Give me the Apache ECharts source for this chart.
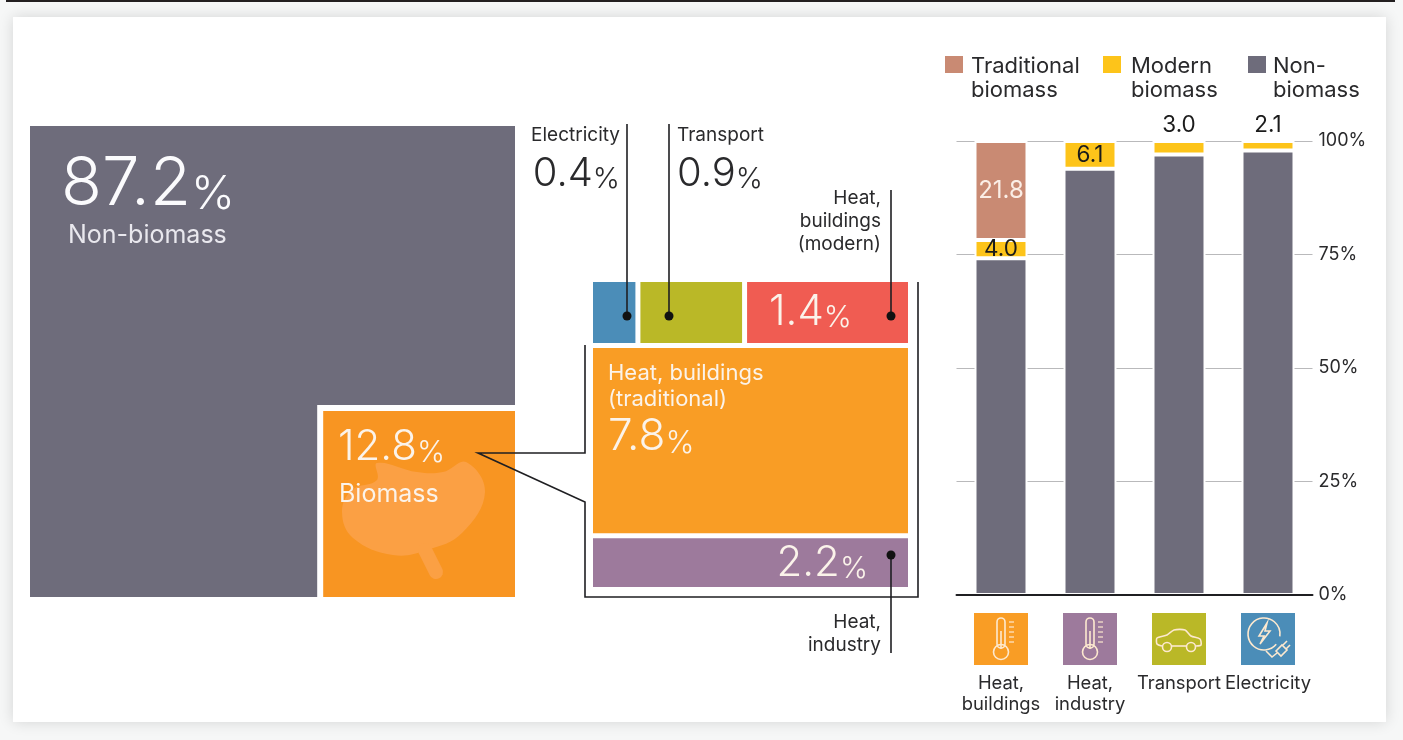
<!DOCTYPE html>
<html>
<head>
<meta charset="utf-8">
<title>Biomass share of energy use</title>
<script src="https://cdn.jsdelivr.net/npm/echarts@6/dist/echarts.min.js"></script>
<style>
  html, body { margin: 0; padding: 0; width: 1403px; height: 740px; overflow: hidden; background: #f6f7f7; }
  #rule { position: absolute; left: 6px; top: 0; width: 1389px; height: 2px; background: #231f20; }
  #card { position: absolute; left: 13px; top: 17px; width: 1373px; height: 705px; background: #fff;
          box-shadow: 0 0 14px rgba(0, 0, 0, 0.14); }
  #chart { position: absolute; left: 0; top: 0; width: 1403px; height: 740px; }
</style>
</head>
<body>
<div id="rule"></div>
<div id="card"></div>
<div id="chart"></div>
<script>
// Overall split of final energy use
const overviewNames = ['Non-biomass', 'Biomass'];
const overviewShares = [87.2, 12.8];

// Breakdown of the biomass share, one list per row of the detail panel
const topRowNames = ['Electricity', 'Transport', 'Heat, buildings (modern)'];
const topRowShares = [0.4, 0.9, 1.4];
const middleRowNames = ['Heat, buildings (traditional)'];
const middleRowShares = [7.8];
const bottomRowNames = ['Heat, industry'];
const bottomRowShares = [2.2];

// Stacked bars by end use
const sectors = ['Heat,\nbuildings', 'Heat,\nindustry', 'Transport', 'Electricity'];
const traditionalBiomass = [21.8, null, null, null];
const modernBiomass = [4.0, 6.1, 3.0, 2.1];
const nonBiomass = [74.2, 93.9, 97.0, 97.9];
const percentTicks = [0, 25, 50, 75, 100];

const FONT = 'Inter, "Noto Sans", sans-serif';
const INK = '#2a2a2c';
const SOFT_WHITE = '#fbf3ea';
const GRAY = '#6e6c7b';
const ORANGE_DEEP = '#f89522';
const PANEL_COLORS = {
  'Electricity': '#4b8db8',
  'Transport': '#bab827',
  'Heat, buildings (modern)': '#f05c52',
  'Heat, buildings (traditional)': '#f99d25',
  'Heat, industry': '#9d7a9c'
};
const TILE_COLORS = ['#f99d25', '#9d7a9c', '#bab827', '#4b8db8'];

// The biomass block is a corner square; its side follows the square root of its
// share, enlarged a little so the headline and name sit comfortably inside it.
const BLOCK_ENLARGE = 1.14;
const blockSide = BLOCK_ENLARGE * Math.sqrt(overviewShares[1] / 100);

// Detail panel: row heights and cell widths are proportional to the shares
function panelCells() {
  const rows = [
    [topRowNames, topRowShares],
    [middleRowNames, middleRowShares],
    [bottomRowNames, bottomRowShares]
  ];
  const sum = a => a.reduce((s, v) => s + v, 0);
  const total = rows.reduce((s, r) => s + sum(r[1]), 0);
  const cells = [];
  let y = 0;
  rows.forEach(([names, shares]) => {
    const rowTotal = sum(shares);
    const y1 = y + rowTotal / total;
    let x = 0;
    shares.forEach((v, i) => {
      const x1 = x + v / rowTotal;
      cells.push({ name: names[i], value: [x, y, x1, y1] });
      x = x1;
    });
    y = y1;
  });
  return cells;
}

const cells = panelCells();
const PANEL_GAP = 2.5;

function pct(num, big, small, color) {
  return {
    text: '{n|' + num + '}{p|%}',
    rich: {
      n: { fontFamily: FONT, fontWeight: 300, fontSize: big, fill: color, color: color },
      p: { fontFamily: FONT, fontWeight: 300, fontSize: small, fill: color, color: color, verticalAlign: 'bottom' }
    }
  };
}

function txt(x, y, text, size, color, align) {
  return {
    type: 'text', x: x, y: y, z: 20, silent: true,
    style: { text: text, font: '400 ' + size + 'px ' + FONT, fill: color, textAlign: align || 'left',
             textVerticalAlign: 'middle', lineHeight: Math.round(size * 1.2) }
  };
}

function pctText(x, y, num, big, small, color, align) {
  const p = pct(num, big, small, color);
  return {
    type: 'text', x: x, y: y, z: 20, silent: true,
    style: { text: p.text, rich: p.rich, fill: color, textAlign: align || 'left', textVerticalAlign: 'middle' }
  };
}

function line(points, width) {
  return {
    type: 'polyline', z: 18, silent: true,
    shape: { points: points },
    style: { stroke: '#1f1f22', lineWidth: width || 1.6, fill: null }
  };
}

function dot(x, y) {
  return { type: 'circle', z: 19, silent: true, shape: { cx: x, cy: y, r: 4.5 }, style: { fill: '#111' } };
}

// Tile artwork under each bar, drawn around the tile's centre
function tileIcon(kind, cx, cy) {
  const stroke = { stroke: '#fde9cf', lineWidth: 1.6, fill: null };
  const shapes = [];
  const add = (type, shape, extra) =>
    shapes.push({ type: type, z: 16, silent: true, shape: shape, style: Object.assign({}, stroke, extra || {}) });
  if (kind === 0 || kind === 1) {
    add('rect', { x: cx - 4, y: cy - 21, width: 8, height: 30, r: 4 });
    add('circle', { cx: cx, cy: cy + 13, r: 7.5 });
    add('line', { x1: cx, y1: cy - 8, x2: cx, y2: cy + 10 });
    for (let i = 0; i < 5; i++) {
      add('line', { x1: cx + 8, y1: cy - 17 + i * 5, x2: cx + 13, y2: cy - 17 + i * 5 }, { lineWidth: 1.2 });
    }
  } else if (kind === 2) {
    add('polyline', { smooth: 0.25, points: [[cx - 17, cy + 7], [cx - 22, cy + 5], [cx - 22, cy - 1], [cx - 12, cy - 4],
      [cx - 5, cy - 9], [cx + 6, cy - 9], [cx + 12, cy - 3], [cx + 21, cy], [cx + 22, cy + 6], [cx + 17, cy + 7]] });
    add('line', { x1: cx - 8, y1: cy + 7, x2: cx + 8, y2: cy + 7 });
    add('circle', { cx: cx - 12, cy: cy + 8, r: 4.5 });
    add('circle', { cx: cx + 12, cy: cy + 8, r: 4.5 });
  } else {
    add('arc', { cx: cx - 4, cy: cy - 5, r: 16, startAngle: 0.7, endAngle: 0.15 + Math.PI * 2 });
    add('polygon', { points: [[cx - 1, cy - 16], [cx - 9, cy - 3], [cx - 4, cy - 3], [cx - 8, cy + 5], [cx + 2, cy - 8], [cx - 3, cy - 8]] });
    add('polyline', { points: [[cx - 2, cy + 12], [cx + 4, cy + 18], [cx + 9, cy + 14]] });
    add('polygon', { points: [[cx + 8, cy + 12], [cx + 14, cy + 6], [cx + 19, cy + 11], [cx + 13, cy + 17]] });
    add('line', { x1: cx + 15, y1: cy + 6, x2: cx + 19, y2: cy + 2 });
    add('line', { x1: cx + 18, y1: cy + 10, x2: cx + 22, y2: cy + 6 });
  }
  return shapes;
}

const barLabel = (color, position, size) => ({
  show: true, position: position, color: color, fontFamily: FONT, fontSize: size, distance: 4,
  formatter: p => p.value == null ? '' : p.value.toFixed(1)
});
const barStyle = color => ({ color: color, borderColor: '#fff', borderWidth: 2 });

const option = {
  animation: false,
  backgroundColor: 'transparent',
  textStyle: { fontFamily: FONT },
  grid: [
    { left: 30, top: 126, width: 485, height: 471 },
    { left: 590.5, top: 279.5, width: 320, height: 310 },
    { left: 956.5, top: 141, width: 356, height: 454 }
  ],
  xAxis: [
    { gridIndex: 0, type: 'value', min: 0, max: 1, show: false },
    { gridIndex: 1, type: 'value', min: 0, max: 1, show: false },
    {
      gridIndex: 2, type: 'category', data: sectors, z: 10,
      axisTick: { show: false },
      axisLine: { show: true, lineStyle: { color: '#1f1f22', width: 2 } },
      axisLabel: { interval: 0, hideOverlap: false, color: INK, fontFamily: FONT, fontSize: 18.4, lineHeight: 21, margin: 78 }
    }
  ],
  yAxis: [
    { gridIndex: 0, type: 'value', min: 0, max: 1, inverse: true, show: false },
    { gridIndex: 1, type: 'value', min: 0, max: 1, inverse: true, show: false },
    {
      gridIndex: 2, type: 'value', position: 'right', min: 0, max: 100, interval: 25,
      axisLine: { show: false }, axisTick: { show: false },
      axisLabel: { color: INK, fontFamily: FONT, fontSize: 18, margin: 6,
                   formatter: v => percentTicks.includes(v) ? v + '%' : '' },
      splitLine: { lineStyle: { color: '#b9b9bb', width: 1 } }
    }
  ],
  series: [
    {
      // Headline square with the biomass block set into its lower right corner
      name: 'Overview', type: 'custom', xAxisIndex: 0, yAxisIndex: 0, clip: false, silent: true, z: 3,
      data: [[overviewShares[0], 0], [overviewShares[1], 1]],
      renderItem: (params, api) => {
        const at = (x, y) => api.coord([x, y]);
        const a = 1 - blockSide;
        if (params.dataIndex === 0) {
          return {
            type: 'polygon',
            shape: { points: [at(0, 0), at(1, 0), at(1, a), at(a, a), at(a, 1), at(0, 1)] },
            style: { fill: GRAY }
          };
        }
        const tl = at(a, a), br = at(1, 1);
        const band = 6;
        return {
          type: 'rect',
          shape: { x: tl[0] + band, y: tl[1] + band, width: br[0] - tl[0] - band, height: br[1] - tl[1] - band },
          style: { fill: ORANGE_DEEP }
        };
      }
    },
    {
      name: 'Biomass breakdown', type: 'custom', xAxisIndex: 1, yAxisIndex: 1, clip: false, silent: true, z: 3,
      data: cells.map(c => c.value),
      renderItem: (params, api) => {
        const p0 = api.coord([api.value(0), api.value(1)]);
        const p1 = api.coord([api.value(2), api.value(3)]);
        return {
          type: 'rect',
          shape: { x: p0[0] + PANEL_GAP, y: p0[1] + PANEL_GAP,
                   width: p1[0] - p0[0] - 2 * PANEL_GAP, height: p1[1] - p0[1] - 2 * PANEL_GAP },
          style: { fill: PANEL_COLORS[cells[params.dataIndex].name] }
        };
      }
    },
    {
      name: 'Non-biomass', type: 'bar', stack: 'share', xAxisIndex: 2, yAxisIndex: 2, barWidth: 53,
      itemStyle: barStyle(GRAY), data: nonBiomass, z: 4
    },
    {
      name: 'Modern biomass', type: 'bar', stack: 'share', xAxisIndex: 2, yAxisIndex: 2, barWidth: 53,
      itemStyle: barStyle('#fdc41a'), z: 4,
      data: modernBiomass.map(v => ({
        value: v,
        label: barLabel('#1b1b1b', v <= 3 ? 'top' : 'inside', 22.5)
      })),
      labelLayout: { hideOverlap: false }
    },
    {
      name: 'Traditional biomass', type: 'bar', stack: 'share', xAxisIndex: 2, yAxisIndex: 2, barWidth: 53,
      itemStyle: barStyle('#c98a73'), data: traditionalBiomass, z: 4,
      label: barLabel('#fbeee6', 'inside', 24)
    }
  ]
};

const chart = echarts.init(document.getElementById('chart'));
chart.setOption(option);

// Annotations: names, headline figures, leader lines, key and icon tiles
const graphics = [];

graphics.push(pctText(61, 185, overviewShares[0].toFixed(1), 67, 47, '#fbfbfd'));
graphics.push(txt(68, 235, overviewNames[0], 25, '#e9e8ee'));

// Leaf motif behind the biomass label
graphics.push({
  type: 'polygon', z: 5, silent: true,
  shape: {
    smooth: 0.4,
    points: [[377, 463], [417, 472], [443, 472], [466, 462], [485, 492], [462, 533], [427, 550],
             [393, 555], [353, 538], [342, 512], [352, 490], [377, 480]]
  },
  style: { fill: '#fba044' }
});
graphics.push({
  type: 'line', z: 5, silent: true,
  shape: { x1: 425, y1: 550, x2: 436, y2: 572 },
  style: { stroke: '#fba044', lineWidth: 14, lineCap: 'round' }
});
graphics.push(pctText(338, 447, overviewShares[1].toFixed(1), 42, 30, SOFT_WHITE));
graphics.push(txt(339, 494, overviewNames[1], 25, SOFT_WHITE));

// Callout from the biomass block to the detail panel
graphics.push(line([[585, 345], [585, 453], [478, 453], [585, 502], [585, 597], [918, 597], [918, 282]]));

graphics.push(line([[627, 124], [627, 316]]));
graphics.push(dot(627, 316));
graphics.push(txt(620, 135, 'Electricity', 19, INK, 'right'));
graphics.push(pctText(620, 174, topRowShares[0].toFixed(1), 40, 29, INK, 'right'));

graphics.push(line([[669, 124], [669, 316]]));
graphics.push(dot(669, 316));
graphics.push(txt(677, 135, 'Transport', 19, INK));
graphics.push(pctText(677, 174, topRowShares[1].toFixed(1), 40, 29, INK));

graphics.push(line([[891, 190], [891, 316]]));
graphics.push(dot(891, 316));
graphics.push(txt(881, 221, 'Heat,\nbuildings\n(modern)', 19, INK, 'right'));
graphics.push(pctText(769, 312, topRowShares[2].toFixed(1), 42, 30, SOFT_WHITE));

graphics.push(txt(608, 386, 'Heat, buildings\n(traditional)', 22, SOFT_WHITE));
graphics.push(pctText(608, 437, middleRowShares[0].toFixed(1), 44, 31, SOFT_WHITE));

graphics.push(pctText(868, 563, bottomRowShares[0].toFixed(1), 42, 30, SOFT_WHITE, 'right'));
graphics.push(line([[891, 555], [891, 653]]));
graphics.push(dot(891, 555));
graphics.push(txt(881, 634, 'Heat,\nindustry', 19, INK, 'right'));

// Key above the bars
[
  [945, '#c98a73', 'Traditional\nbiomass', 971],
  [1103, '#fdc41a', 'Modern\nbiomass', 1131],
  [1248, GRAY, 'Non-\nbiomass', 1273]
].forEach(([x, color, label, tx]) => {
  graphics.push({ type: 'rect', z: 15, silent: true, shape: { x: x, y: 56, width: 18, height: 17 }, style: { fill: color } });
  graphics.push({
    type: 'text', x: tx, y: 78, z: 20, silent: true,
    style: { text: label, font: '400 22px ' + FONT, fill: INK, lineHeight: 24, textVerticalAlign: 'middle' }
  });
});

// Icon tiles centred under each category
sectors.forEach((s, i) => {
  const cx = chart.convertToPixel({ xAxisIndex: 2 }, i);
  graphics.push({ type: 'rect', z: 15, silent: true, shape: { x: cx - 27, y: 613, width: 54, height: 52 }, style: { fill: TILE_COLORS[i] } });
  tileIcon(i, cx, 639).forEach(g => graphics.push(g));
});

chart.setOption({ graphic: { elements: graphics } });
</script>
</body>
</html>
